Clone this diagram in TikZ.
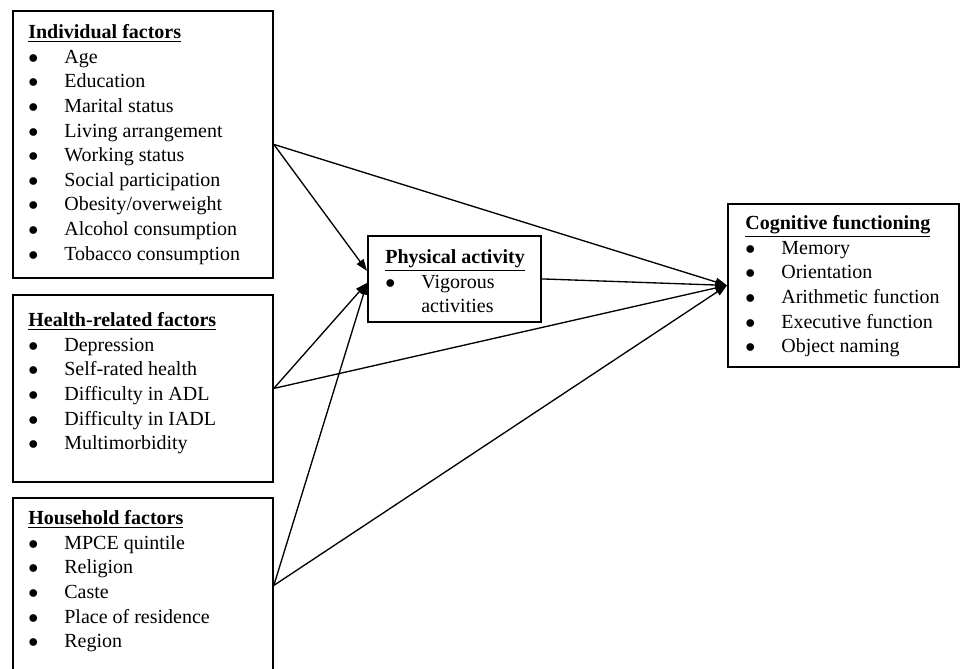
\documentclass[tikz,border=0pt]{standalone}
\usepackage{fontspec}
\setmainfont{Liberation Serif}
\usetikzlibrary{arrows.meta}

\newcommand{\itm}[1]{\makebox[21.6pt][l]{$\bullet$}#1}
\newcommand{\hd}[1]{\underline{\textbf{#1}}}

\begin{document}
\begin{tikzpicture}[x=0.6pt,y=-0.6pt,
  box/.style={draw,line width=1.1pt,inner sep=0pt,anchor=north west},
  txt/.style={anchor=north west,inner sep=0pt,align=left,
    font=\fontsize{12}{14.76}\selectfont,xshift=9.6pt,yshift=-8.6pt},
  arr/.style={line width=0.8pt,-{Triangle[length=7pt,width=5pt]}}]
\useasboundingbox (0,0) rectangle (961,669);
% boxes
\node[box,minimum width=156pt,minimum height=160.2pt] (indiv) at (12,10) {};
\node[box,minimum width=156pt,minimum height=112.2pt] (health) at (12,294) {};
\node[box,minimum width=156pt,minimum height=105pt] (house) at (12,497) {};
\node[box,minimum width=103.8pt,minimum height=51.6pt] (phys) at (367,235) {};
\node[box,minimum width=138.6pt,minimum height=97.8pt] (cog) at (727,203) {};
% texts
\node[txt] (indiv-t) at (indiv.north west) {\hd{Individual factors}\\
  \itm{Age}\\ \itm{Education}\\ \itm{Marital status}\\
  \itm{Living arrangement}\\ \itm{Working status}\\
  \itm{Social participation}\\ \itm{Obesity/overweight}\\
  \itm{Alcohol consumption}\\ \itm{Tobacco consumption}};
\node[txt,yshift=-2.4pt] (health-t) at (health.north west) {\hd{Health-related factors}\\
  \itm{Depression}\\ \itm{Self-rated health}\\ \itm{Difficulty in ADL}\\
  \itm{Difficulty in IADL}\\ \itm{Multimorbidity}};
\node[txt,yshift=0.6pt] (house-t) at (house.north west) {\hd{Household factors}\\
  \itm{MPCE quintile}\\ \itm{Religion}\\ \itm{Caste}\\
  \itm{Place of residence}\\ \itm{Region}};
\node[txt,xshift=1.2pt] (phys-t) at (phys.north west) {\hd{Physical activity}\\
  \itm{Vigorous}\\ \hspace*{21.6pt}activities};
\node[txt,xshift=1.2pt,yshift=1.2pt] (cog-t) at (cog.north west) {\hd{Cognitive functioning}\\
  \itm{Memory}\\ \itm{Orientation}\\ \itm{Arithmetic function}\\
  \itm{Executive function}\\ \itm{Object naming}};
% arrows
\coordinate (phys-in1) at ([yshift=4.8pt]phys.west);
\coordinate (phys-in2) at ([yshift=-2.4pt]phys.west);
\draw[arr] (indiv.east) to (phys-in1);
\draw[arr] (health.east) to (phys-in2);
\draw[arr] (house.east) to (phys-in2);
\foreach \p in {indiv,health,house,phys}
  \draw[arr] (\p.east) to (cog.west);
\end{tikzpicture}
\end{document}
